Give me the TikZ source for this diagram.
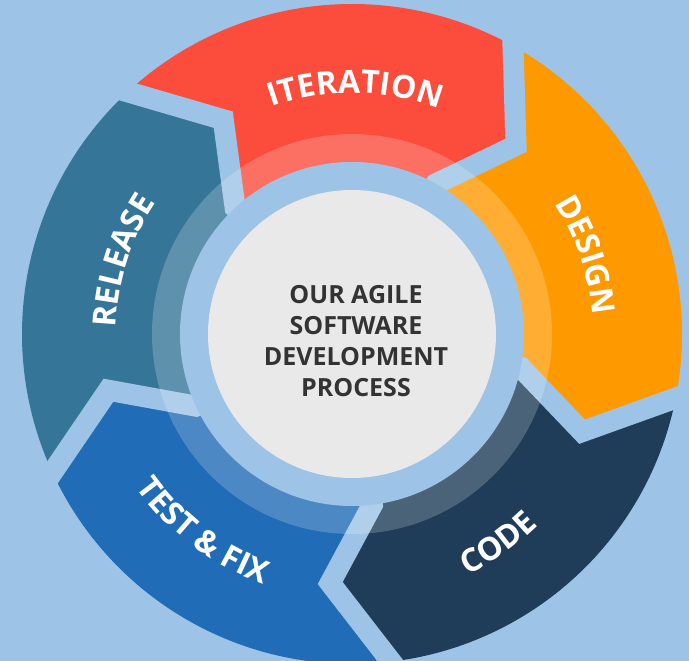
\documentclass[tikz,border=0pt]{standalone}
\usepackage{fontspec}
\setmainfont{Open Sans}
\usetikzlibrary{decorations.text,calc}
\definecolor{bgblue}{RGB}{157,195,230}
\definecolor{iterred}{RGB}{252,76,60}
\definecolor{designorange}{RGB}{255,153,0}
\definecolor{codenavy}{RGB}{31,61,88}
\definecolor{testblue}{RGB}{32,108,182}
\definecolor{releaseblue}{RGB}{53,118,152}
\definecolor{centergray}{RGB}{233,233,233}
\definecolor{titletext}{RGB}{51,51,51}
\newcommand\lblfont{\fontsize{32}{32}\selectfont\bfseries}
\tikzset{
  gapline/.style={draw=bgblue, line width=21pt, line join=miter},
  arclabel/.style={decorate, decoration={text along path, text align=center, text color=white}},
}
\begin{document}
\begin{tikzpicture}[x=1pt,y=1pt]
\useasboundingbox[fill=bgblue] (-352,-327) rectangle (337,334);
% segments
\foreach \s/\e/\c in {132.8/60.8/iterred, 60.8/-11.2/designorange, -11.2/-83.2/codenavy, -83.2/-155.2/testblue, -155.2/-227.2/releaseblue}{
  \fill[\c] (\s:330) arc[start angle=\s, end angle=\e, radius=330]
    -- ({\e-11.8}:250) -- (\e:172) -- (\e:140)
    arc[start angle=\e, end angle=\s, radius=140]
    -- (\s:172) -- ({\s-11.8}:250) -- cycle;
}
% gaps
\foreach \b in {132.8, 60.8, -11.2, -83.2, -155.2}{
  \coordinate (T) at ({\b-11.8}:250);
  \coordinate (O) at (\b:330);
  \draw[gapline] ($(T)!1.3!(O)$) -- (T) -- (\b:172) -- (\b:140);
}
% translucent ring, blue ring, center disc
\fill[white, opacity=0.2] (0,0) circle (200);
\fill[bgblue] (0,0) circle (172);
\fill[centergray] (0,0) circle (144);
\node[align=center, text=titletext, font=\fontsize{25}{31}\selectfont\bfseries] (title) at (4,-7)
  {OUR AGILE\\SOFTWARE\\DEVELOPMENT\\PROCESS};
% labels
\path[arclabel, decoration={text={|\lblfont|ITERATION}}]
  (129.2:241) arc[start angle=129.2, end angle=49.2, radius=241];
\path[arclabel, decoration={text={|\lblfont|DESIGN}}]
  (58.7:241) arc[start angle=58.7, end angle=-21.3, radius=241];
\path[arclabel, decoration={text={|\lblfont|RELEASE}}]
  (202.3:236) arc[start angle=202.3, end angle=122.3, radius=236];
\path[arclabel, decoration={text={|\lblfont|CODE}}]
  (-95.1:267) arc[start angle=-95.1, end angle=-15.1, radius=267];
\path[arclabel, decoration={text={|\lblfont|TEST {\&} FIX}}]
  (-167.1:265) arc[start angle=-167.1, end angle=-87.1, radius=265];
\end{tikzpicture}
\end{document}
